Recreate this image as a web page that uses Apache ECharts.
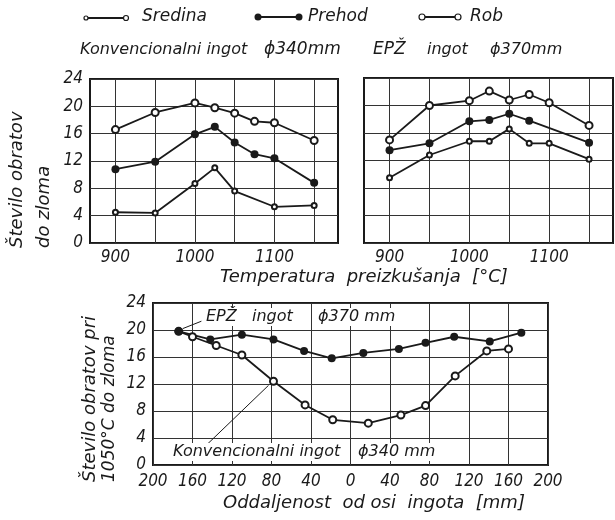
<!DOCTYPE html>
<html><head><meta charset="utf-8">
<script src="https://cdn.jsdelivr.net/npm/echarts@6/dist/echarts.min.js"></script>
<style>html,body{margin:0;padding:0;background:#fff}#c{width:615px;height:520px}</style>
</head><body><div id="c"></div><script>
const TICKFONT = "'DejaVu Sans Condensed','Liberation Sans Narrow','DejaVu Sans',sans-serif";
const FONT = "'DejaVu Sans','Liberation Sans',sans-serif";
const INK = '#1a1a1a';

// Temperature axis (top charts)
const tempGridTicks = [900, 950, 1000, 1050, 1100, 1150];
const tempTickLabels = [900, 1000, 1100];

// Konvencionalni ingot ϕ340mm (top left)
const konvRobT = [900, 950, 1000, 1025, 1050, 1075, 1100, 1150];
const konvRob = [16.6, 19.1, 20.5, 19.8, 19.0, 17.8, 17.6, 15.0];
const konvPrehodT = [900, 950, 1000, 1025, 1050, 1075, 1100, 1150];
const konvPrehod = [10.8, 11.9, 15.9, 17.0, 14.7, 13.0, 12.4, 8.8];
const konvSredinaT = [900, 950, 1000, 1025, 1050, 1100, 1150];
const konvSredina = [4.5, 4.4, 8.7, 11.0, 7.6, 5.3, 5.5];

// EPŽ ingot ϕ370mm (top right)
const epzRobT = [900, 950, 1000, 1025, 1050, 1075, 1100, 1150];
const epzRob = [15.0, 20.0, 20.7, 22.1, 20.8, 21.6, 20.4, 17.1];
const epzPrehodT = [900, 950, 1000, 1025, 1050, 1075, 1150];
const epzPrehod = [13.5, 14.5, 17.7, 17.9, 18.8, 17.8, 14.6];
const epzSredinaT = [900, 950, 1000, 1025, 1050, 1075, 1100, 1150];
const epzSredina = [9.5, 12.8, 14.8, 14.8, 16.6, 14.5, 14.5, 12.2];

// Bottom chart: distance from ingot axis [mm] at 1050°C
const distEpz = [-174, -142, -110, -78, -47, -19, 13, 49, 76, 105, 141, 173];
const valEpz = [19.8, 18.6, 19.3, 18.6, 16.9, 15.8, 16.6, 17.2, 18.1, 19.0, 18.3, 19.6];
const distKonv = [-174, -160, -136, -110, -78, -46, -18, 18, 51, 76, 106, 138, 160];
const valKonv = [19.8, 19.0, 17.7, 16.3, 12.4, 8.9, 6.7, 6.2, 7.4, 8.8, 13.2, 16.9, 17.2];

// leader lines (data coords) for annotations
const epzLeader = [[-170, 20.2], [-151, 21.3]];
const konvLeader = [[-147, 2.8], [-83, 11.8]];

const pairs = (xs, ys) => xs.map((x, i) => [x, ys[i]]);

const chart = echarts.init(document.getElementById('c'), null, {renderer: 'canvas'});

const labelStyle = {color: INK, fontFamily: TICKFONT, fontStyle: 'italic', fontSize: 17};
const splitStyle = {show: true, lineStyle: {color: '#333', width: 1}};

function tempAxis(gi) {
  return {
    gridIndex: gi, type: 'value', min: 868, max: 1180,
    axisLine: {show: false},
    axisTick: {show: false, customValues: tempGridTicks},
    axisLabel: Object.assign({customValues: tempTickLabels, margin: 6, formatter: v => String(v)}, labelStyle),
    splitLine: splitStyle
  };
}
function countAxis(gi, showLabel) {
  return {
    gridIndex: gi, type: 'value', min: 0, max: 24, interval: 4,
    axisLine: {show: false}, axisTick: {show: false},
    axisLabel: Object.assign({show: showLabel, margin: 7, formatter: v => String(v)}, labelStyle),
    splitLine: splitStyle
  };
}

function lineSeries(xi, yi, data, kind, extra) {
  const sym = kind === 'rob' ? {symbol: 'emptyCircle', symbolSize: 7}
            : kind === 'prehod' ? {symbol: 'circle', symbolSize: 8}
            : {symbol: 'emptyCircle', symbolSize: 5};
  return Object.assign({
    type: 'line', xAxisIndex: xi, yAxisIndex: yi, data: data,
    symbol: sym.symbol, symbolSize: sym.symbolSize,
    lineStyle: {color: INK, width: 1.8},
    itemStyle: {color: INK, borderWidth: 1.4},
    emphasis: {disabled: true}, animation: false, z: 5
  }, extra || {});
}

const txt = (text, x, y, size, extra) => Object.assign({
  type: 'text', x: x, y: y, z: 100,
  style: {text: text, fill: INK, font: 'italic ' + size + 'px ' + FONT,
    align: 'left', verticalAlign: 'middle'}
}, extra || {});
const boxTxt = (text, x, y, size) => ({
  type: 'text', x: x, y: y, z: 100,
  style: {text: text, fill: INK, font: 'italic ' + size + 'px ' + FONT,
    align: 'left', verticalAlign: 'middle', backgroundColor: '#fff', padding: [1, 2]}
});

const graphics = [
  // legend row
  {type: 'line', shape: {x1: 86, y1: 18, x2: 126, y2: 18}, style: {stroke: INK, lineWidth: 1.8}, z: 100},
  {type: 'circle', shape: {cx: 86, cy: 18, r: 2}, style: {fill: '#fff', stroke: INK, lineWidth: 1.2}, z: 101},
  {type: 'circle', shape: {cx: 126, cy: 18, r: 2.5}, style: {fill: '#fff', stroke: INK, lineWidth: 1.2}, z: 101},
  txt('Sredina', 142, 17, 17),
  {type: 'line', shape: {x1: 258, y1: 17, x2: 299, y2: 17}, style: {stroke: INK, lineWidth: 1.8}, z: 100},
  {type: 'circle', shape: {cx: 258, cy: 17, r: 3.5}, style: {fill: INK}, z: 101},
  {type: 'circle', shape: {cx: 299, cy: 17, r: 3.5}, style: {fill: INK}, z: 101},
  txt('Prehod', 308, 17, 17),
  {type: 'line', shape: {x1: 422, y1: 17, x2: 458, y2: 17}, style: {stroke: INK, lineWidth: 1.8}, z: 100},
  {type: 'circle', shape: {cx: 422, cy: 17, r: 3}, style: {fill: '#fff', stroke: INK, lineWidth: 1.2}, z: 101},
  {type: 'circle', shape: {cx: 458, cy: 17, r: 3}, style: {fill: '#fff', stroke: INK, lineWidth: 1.2}, z: 101},
  txt('Rob', 470, 17, 17),
  // second row titles
  txt('Konvencionalni ingot', 80, 50, 16),
  txt('ϕ340mm', 264, 50, 17),
  txt('EPŽ', 373, 50, 17),
  txt('ingot', 427, 50, 16),
  txt('ϕ370mm', 490, 50, 16),
  // axis titles
  txt('Število obratov', 17, 248, 18, {rotation: Math.PI / 2}),
  txt('do zloma', 44, 248, 18, {rotation: Math.PI / 2}),
  txt('Število obratov pri', 90, 482, 18, {rotation: Math.PI / 2}),
  txt('1050°C do zloma', 110, 482, 17, {rotation: Math.PI / 2}),
  txt('Temperatura  preizkušanja  [°C]', 220, 277, 18),
  txt('Oddaljenost  od osi  ingota  [mm]', 223, 503, 18),
  // annotations in bottom chart
  boxTxt('EPŽ   ingot', 204, 317, 16),
  boxTxt('ϕ370 mm', 316, 317, 16),
  boxTxt('Konvencionalni ingot', 171, 452, 16),
  boxTxt('ϕ340 mm', 356, 452, 16)
];

const option = {
  backgroundColor: '#fff',
  animation: false,
  grid: [
    {left: 90, top: 79, width: 248, height: 164, show: true, borderColor: INK, borderWidth: 2, backgroundColor: 'transparent'},
    {left: 364, top: 78, width: 249, height: 165, show: true, borderColor: INK, borderWidth: 2, backgroundColor: 'transparent'},
    {left: 153, top: 303, width: 395, height: 162, show: true, borderColor: INK, borderWidth: 2, backgroundColor: 'transparent'}
  ],
  xAxis: [
    tempAxis(0), tempAxis(1),
    {gridIndex: 2, type: 'value', min: -200, max: 200, interval: 40,
     axisLine: {show: false}, axisTick: {show: false},
     axisLabel: Object.assign({margin: 8, formatter: v => String(Math.abs(v))}, labelStyle),
     splitLine: splitStyle}
  ],
  yAxis: [countAxis(0, true), countAxis(1, false), countAxis(2, true)],
  series: [
    lineSeries(0, 0, pairs(konvRobT, konvRob), 'rob'),
    lineSeries(0, 0, pairs(konvPrehodT, konvPrehod), 'prehod'),
    lineSeries(0, 0, pairs(konvSredinaT, konvSredina), 'sredina'),
    lineSeries(1, 1, pairs(epzRobT, epzRob), 'rob'),
    lineSeries(1, 1, pairs(epzPrehodT, epzPrehod), 'prehod'),
    lineSeries(1, 1, pairs(epzSredinaT, epzSredina), 'sredina'),
    lineSeries(2, 2, pairs(distKonv, valKonv), 'rob', {
      markLine: {silent: true, symbol: 'none', label: {show: false}, animation: false,
        lineStyle: {color: INK, width: 1, type: 'solid'},
        data: [[{coord: konvLeader[0]}, {coord: konvLeader[1]}]]}
    }),
    lineSeries(2, 2, pairs(distEpz, valEpz), 'prehod', {
      markLine: {silent: true, symbol: 'none', label: {show: false}, animation: false,
        lineStyle: {color: INK, width: 1, type: 'solid'},
        data: [[{coord: epzLeader[0]}, {coord: epzLeader[1]}]]}
    })
  ],
  graphic: graphics
};
chart.setOption(option);
</script></body></html>
